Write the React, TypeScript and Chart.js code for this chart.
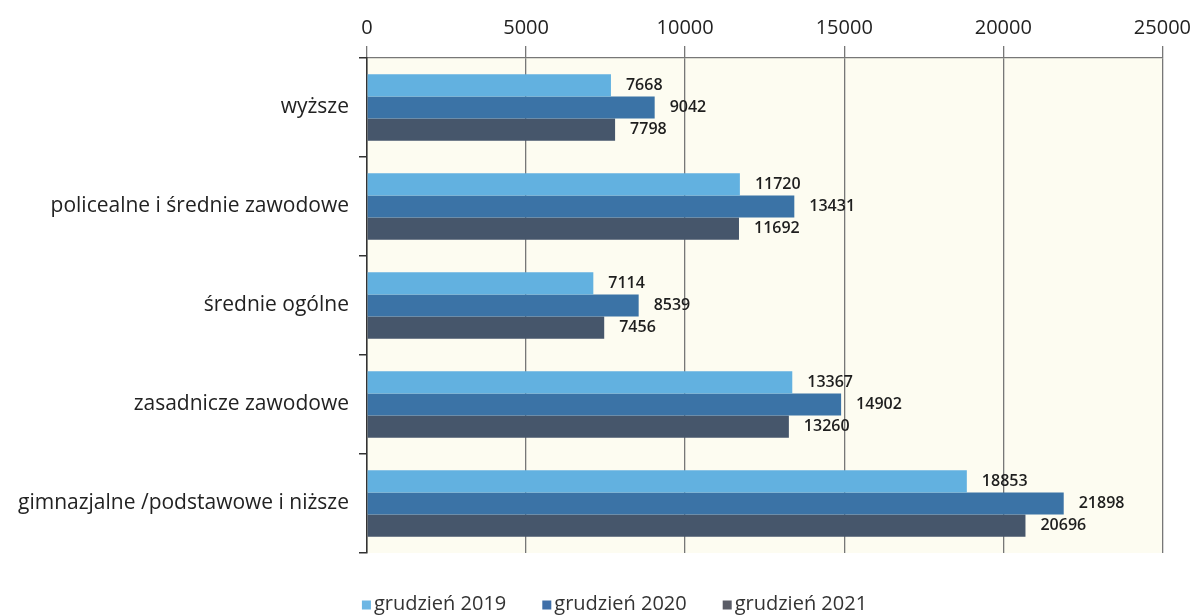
import React, { useEffect, useRef } from "react";
import { Chart, registerables } from "chart.js";

Chart.register(...registerables);

const categories = [
  "wyższe",
  "policealne i średnie zawodowe",
  "średnie ogólne",
  "zasadnicze zawodowe",
  "gimnazjalne /podstawowe i niższe",
];
const seriesNames = ["grudzień 2019", "grudzień 2020", "grudzień 2021"];
const values2019 = [7668, 11720, 7114, 13367, 18853];
const values2020 = [9042, 13431, 8539, 14902, 21898];
const values2021 = [7798, 11692, 7456, 13260, 20696];
const xTicks = [0, 5000, 10000, 15000, 20000, 25000];

const colors = ["#62b1e0", "#3b73a6", "#46566b"];
const legendColors = ["#6cb6e4", "#3f6fa8", "#5a5c66"];
const FONT = "'Open Sans', 'Liberation Sans', sans-serif";

export default function App() {
  const ref = useRef<HTMLCanvasElement>(null);
  useEffect(() => {
    document.body.style.margin = "0";
    const bgPlugin = {
      id: "bg",
      beforeDraw(chart: any) {
        const { ctx, chartArea } = chart;
        ctx.save();
        ctx.fillStyle = "#fdfcf1";
        ctx.fillRect(chartArea.left, chartArea.top, chartArea.right - chartArea.left, chartArea.bottom - chartArea.top);
        ctx.restore();
      },
    };
    const labelPlugin = {
      id: "labels",
      afterDatasetsDraw(chart: any) {
        const { ctx } = chart;
        ctx.save();
        ctx.font = `600 16px ${FONT}`;
        ctx.fillStyle = "#1e1e1e";
        ctx.textBaseline = "middle";
        ctx.textAlign = "left";
        chart.data.datasets.forEach((ds: any, i: number) => {
          const meta = chart.getDatasetMeta(i);
          meta.data.forEach((bar: any, j: number) => {
            ctx.fillText(String(ds.data[j]), bar.x + 15, bar.y);
          });
        });
        ctx.restore();
      },
    };
    const legendPlugin = {
      id: "customLegend",
      afterDraw(chart: any) {
        const { ctx, width, height } = chart;
        ctx.save();
        ctx.font = `20px ${FONT}`;
        ctx.textBaseline = "middle";
        ctx.textAlign = "left";
        const box = 9;
        const gapText = 3;
        const gapItem = 36;
        const names = chart.data.datasets.map((d: any) => d.label);
        const widths = names.map((n: string) => box + gapText + ctx.measureText(n).width);
        const total = widths.reduce((a: number, b: number) => a + b, 0) + gapItem * (names.length - 1);
        let x = width / 2 + 16 - total / 2;
        const y = height - 12;
        names.forEach((n: string, i: number) => {
          ctx.fillStyle = legendColors[i];
          ctx.fillRect(x, y - box / 2 + 1, box, box);
          ctx.fillStyle = "#333";
          ctx.fillText(n, x + box + gapText, y);
          x += widths[i] + gapItem;
        });
        ctx.restore();
      },
    };
    const chart = new Chart(ref.current!, {
      type: "bar",
      data: {
        labels: categories,
        datasets: [values2019, values2020, values2021].map((d, i) => ({
          label: seriesNames[i],
          data: d,
          backgroundColor: colors[i],
          borderWidth: 0,
          categoryPercentage: 0.67,
          barPercentage: 1,
        })),
      },
      options: {
        indexAxis: "y",
        animation: false,
        responsive: false,
        maintainAspectRatio: false,
        layout: { padding: { top: 10, left: 8, right: 2, bottom: 63 } },
        plugins: {
          legend: { display: false },
          tooltip: { enabled: false },
        },
        scales: {
          x: {
            position: "top",
            min: 0,
            max: 25000,
            afterBuildTicks(scale: any) {
              scale.ticks = xTicks.map((v) => ({ value: v }));
            },
            ticks: {
              font: { family: FONT, size: 20 },
              color: "#222",
              padding: 6,
              callback: (v: any) => String(v),
            },
            grid: {
              color: "#777",
              lineWidth: 1.3,
              tickLength: 12,
              drawOnChartArea: true,
            },
            border: { display: true, color: "#777", width: 1.3 },
          },
          y: {
            ticks: {
              font: { family: FONT, size: 21 },
              color: "#222",
              padding: 10,
            },
            grid: {
              offset: true,
              drawOnChartArea: false,
              color: "#333",
              lineWidth: 1.5,
              tickLength: 8,
            },
            border: { display: true, color: "#333", width: 1.5 },
          },
        },
      },
      plugins: [bgPlugin, labelPlugin, legendPlugin],
    } as any);
    return () => chart.destroy();
  }, []);
  return (
    <div style={{ position: "absolute", left: 0, top: 0, width: 1197, height: 616, background: "#fff" }}>
      <canvas ref={ref} width={1197} height={616} />
    </div>
  );
}
